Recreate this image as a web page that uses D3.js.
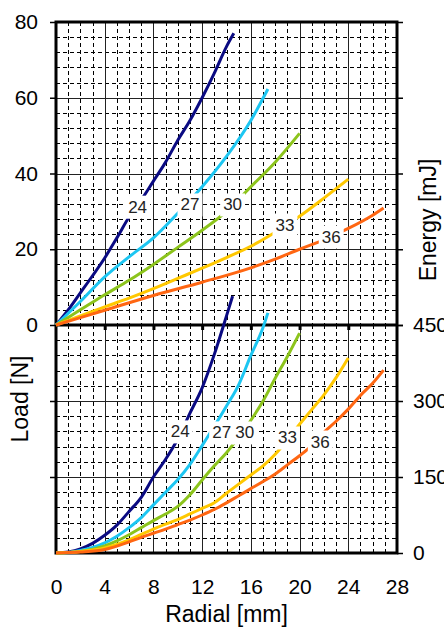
<!DOCTYPE html>
<html>
<head>
<meta charset="utf-8">
<script src="https://cdn.jsdelivr.net/npm/d3@7"></script>
<style>
  body { margin: 0; background: #fff; }
  svg { font-family: "Liberation Sans", Arial, sans-serif; }
</style>
</head>
<body>
<script>
// series names and colours
const series = ["24", "27", "30", "33", "36"];
const colors = ["#0a0a82", "#1cc6f2", "#8cc41c", "#ffc800", "#ff6612"];

// upper panel: Load [N] vs Radial [mm]
const load24 = [[0,0],[1,4],[2,8.5],[3,13],[4,17.7],[5,23],[6,28.5],[7,33],[8,38],[9,43],[10,48.8],[11,54],[12,60],[13,66.5],[14,73.5],[14.6,77]];
const load27 = [[0,0],[2,6.2],[4,12.7],[6,18],[8,23],[10,29.5],[12,36.5],[14,44.5],[16,54],[17.4,62.3]];
const load30 = [[0,0],[2,4],[4,8],[6,11.8],[8,16],[10,20.5],[12,25],[14,30],[16,36.5],[18,43],[20,50.6]];
const load33 = [[0,0],[2,2.4],[4,4.8],[6,7.1],[8,9.6],[10,12.3],[12,15],[14,17.8],[16,20.8],[18,24.5],[20,28.7],[22,33.5],[24,38.5]];
const load36 = [[0,0],[4,3.9],[8,7.8],[12,11.3],[16,15.1],[18,17.4],[20,20],[22,22.5],[24,25.5],[26,29],[26.9,30.9]];

// lower panel: Energy [mJ] vs Radial [mm]
const en24 = [[0,0],[1,2],[2,8],[3,19],[4,35],[5,55],[6,82],[7,110],[8,150],[9,185],[10,225],[11,276],[12,326],[13,392],[14,468],[14.5,507]];
const en27 = [[0,0],[1,1],[2,5],[3,11],[4,20],[5,33],[6,50],[7,70],[8,95],[9,120],[10,145],[11,175],[12,212],[13,250],[14,290],[15,332],[16,390],[17,445],[17.4,474]];
const en30 = [[0,0],[2,3],[4,14],[5,24],[6,36],[7,50],[8,64],[9,77],[10,92],[11,115],[12,144],[13,172],[14,198],[15,229],[16,262],[17,300],[18,345],[19,388],[20,434]];
const en33 = [[0,0],[2,3],[4,10],[6,26],[7,37],[8,47],[9,57],[10,66],[11,77],[12,88],[13,99],[14,118],[15,136],[16,154],[17,172],[18,195],[19,223],[20,254],[21,283],[22,312],[23,346],[24,385]];
const en36 = [[0,0],[2,2],[4,7],[6,22],[7,31],[8,39],[9,47],[10,56],[11,65],[12,75],[13,86],[14,99],[15,113],[16,127],[17,141],[18,156],[19,174],[20,192],[21,212],[22,238],[23,260],[24,284],[25,311],[26,335],[26.9,361]];

// inline label positions (data coords)
const loadLabels = [[6.7,31.1],[11.0,31.7],[14.5,31.7],[18.8,26.4],[22.6,23.2]];
const energyLabels = [[10.2,239],[13.6,237],[15.5,237],[19.0,227],[21.7,219]];

// ticks
const xTicks = [0, 4, 8, 12, 16, 20, 24, 28];
const loadTicks = [0, 20, 40, 60, 80];
const energyTicks = [0, 150, 300, 450];

const W = 444, H = 631;
const svg = d3.select("body").append("svg").attr("width", W).attr("height", H);

const x = d3.scaleLinear().domain([0, 28]).range([56, 397]);
const yLoad = d3.scaleLinear().domain([0, 80]).range([325, 22]);
const yEn = d3.scaleLinear().domain([0, 450]).range([553, 325]);
const px = v => Math.round(v) + 0.5; // crisp 1px grid lines

// grid
const grid = svg.append("g").attr("shape-rendering", "crispEdges");
function panelGrid(y, minorStep, majorStep) {
  const [y0, y1] = y.domain();
  d3.range(0, 28.001, 1).filter(v => v % 4 !== 0).forEach(v => {
    grid.append("line").attr("x1", px(x(v))).attr("x2", px(x(v))).attr("y1", y(y1)).attr("y2", y(y0))
      .attr("stroke", "#000").attr("stroke-width", 1).attr("stroke-dasharray", "4,3");
  });
  d3.range(y0, y1 + 0.001, minorStep).filter(v => v % majorStep !== 0).forEach(v => {
    grid.append("line").attr("x1", x(0)).attr("x2", x(28)).attr("y1", px(y(v))).attr("y2", px(y(v)))
      .attr("stroke", "#000").attr("stroke-width", 1).attr("stroke-dasharray", "4,3");
  });
  xTicks.forEach(v => {
    grid.append("line").attr("x1", px(x(v))).attr("x2", px(x(v))).attr("y1", y(y1)).attr("y2", y(y0))
      .attr("stroke", "#222").attr("stroke-width", 1);
  });
  d3.range(y0, y1 + 0.001, majorStep).forEach(v => {
    grid.append("line").attr("x1", x(0)).attr("x2", x(28)).attr("y1", px(y(v))).attr("y2", px(y(v)))
      .attr("stroke", "#222").attr("stroke-width", 1);
  });
}
panelGrid(yLoad, 4, 20);
panelGrid(yEn, 30, 150);

// axes
function styleAxis(g) {
  g.select(".domain").remove();
  g.selectAll(".tick line").attr("stroke", "#000").attr("stroke-width", 1.5);
  g.selectAll(".tick text").attr("font-size", 21).attr("fill", "#000");
}
svg.append("g").attr("transform", `translate(${x(0)},0)`)
  .call(d3.axisLeft(yLoad).tickValues(loadTicks).tickSize(6).tickPadding(12)).call(styleAxis);
svg.append("g").attr("transform", `translate(${x(0)},0)`)
  .call(d3.axisLeft(yEn).tickValues([150, 300]).tickSize(6).tickFormat("")).call(styleAxis);
svg.append("g").attr("transform", `translate(${x(28)},0)`)
  .call(d3.axisRight(yLoad).tickValues(loadTicks).tickSize(6).tickFormat("")).call(styleAxis);
svg.append("g").attr("transform", `translate(${x(28)},0)`)
  .call(d3.axisRight(yEn).tickValues(energyTicks).tickSize(6).tickPadding(10)).call(styleAxis);
svg.append("g").attr("transform", `translate(0,${yEn(0)})`)
  .call(d3.axisBottom(x).tickValues(xTicks).tickSize(0).tickPadding(26)).call(styleAxis);
// small ticks under the middle divider
svg.append("g").attr("transform", `translate(0,${yLoad(0)})`)
  .call(d3.axisBottom(x).tickValues(xTicks.slice(1, -1)).tickSize(5).tickFormat(""))
  .call(g => { g.select(".domain").remove(); g.selectAll(".tick line").attr("stroke", "#000").attr("stroke-width", 3); });

// frame
const frame = svg.append("g").attr("fill", "none").attr("stroke", "#000").attr("stroke-width", 3);
frame.append("rect").attr("x", x(0)).attr("y", yLoad(80)).attr("width", x(28) - x(0)).attr("height", yEn(0) - yLoad(80));
frame.append("line").attr("x1", x(0)).attr("x2", x(28)).attr("y1", yLoad(0)).attr("y2", yLoad(0));

// curves
const loadData = [load24, load27, load30, load33, load36];
const enData = [en24, en27, en30, en33, en36];
const lineLoad = d3.line().x(d => x(d[0])).y(d => yLoad(d[1])).curve(d3.curveMonotoneX);
const lineEn = d3.line().x(d => x(d[0])).y(d => yEn(d[1])).curve(d3.curveMonotoneX);

svg.append("g").selectAll("path").data(loadData).join("path")
  .attr("d", lineLoad).attr("fill", "none").attr("stroke", (d, i) => colors[i]).attr("stroke-width", 3);
svg.append("g").selectAll("path").data(enData).join("path")
  .attr("d", lineEn).attr("fill", "none").attr("stroke", (d, i) => colors[i]).attr("stroke-width", 3);

// inline labels with white boxes
function addLabels(pos, y) {
  pos.forEach((p, i) => {
    const g = svg.append("g").attr("transform", `translate(${x(p[0])},${y(p[1])})`);
    const t = g.append("text").text(series[i]).attr("text-anchor", "middle")
      .attr("dominant-baseline", "central").attr("font-size", 17).attr("fill", "#222");
    const b = t.node().getBBox();
    g.insert("rect", "text").attr("x", b.x - 3).attr("y", b.y - 2)
      .attr("width", b.width + 6).attr("height", b.height + 4).attr("fill", "#fff");
  });
}
addLabels(loadLabels, yLoad);
addLabels(energyLabels, yEn);

// axis titles
svg.append("text").attr("x", (x(0) + x(28)) / 2).attr("y", 622).attr("text-anchor", "middle")
  .attr("font-size", 23).text("Radial [mm]");
svg.append("text").attr("transform", "translate(28,399) rotate(-90)").attr("text-anchor", "middle")
  .attr("font-size", 23).text("Load [N]");
svg.append("text").attr("transform", "translate(436,220) rotate(-90)").attr("text-anchor", "middle")
  .attr("font-size", 23).text("Energy [mJ]");
</script>
</body>
</html>
